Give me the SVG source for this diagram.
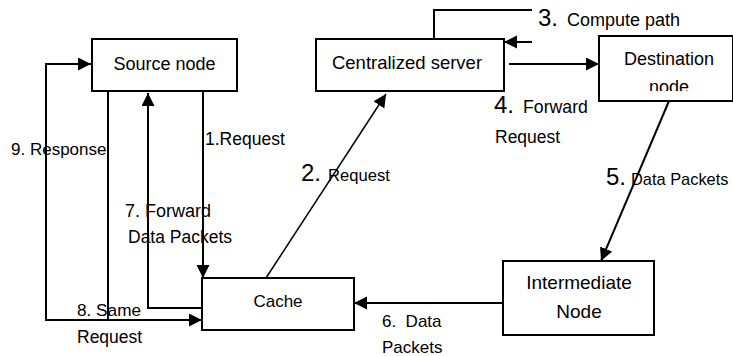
<svg xmlns="http://www.w3.org/2000/svg" width="733" height="356" viewBox="0 0 733 356">
  <style>
    .box { fill: #fff; stroke: #000; stroke-width: 2; }
    .edge { fill: none; stroke: #000; stroke-width: 2; }
    .thin { stroke-width: 1.5; }
    text { font-family: "Liberation Sans", Arial, sans-serif; fill: #000; }
    .node-label { font-size: 18px; text-anchor: middle; }
    .lbl { font-size: 17.5px; }
    .num { font-size: 24px; }
  </style>
  <defs>
    <marker id="arrow" markerUnits="userSpaceOnUse" markerWidth="14" markerHeight="14" refX="13" refY="6.5" orient="auto">
      <path d="M0,0 L13,6.5 L0,13 z" fill="#000"/>
    </marker>
    <clipPath id="dest-clip">
      <rect x="599" y="36" width="134" height="55"/>
    </clipPath>
  </defs>

  <!-- connectors -->
  <g id="connectors">
    <path class="edge" d="M203 91 V278" marker-end="url(#arrow)"/>
    <path class="edge thin" d="M266 278 L386 94" marker-end="url(#arrow)"/>
    <path class="edge" d="M434 39 V10 H532"/>
    <path class="edge" d="M532 42 H504" marker-end="url(#arrow)"/>
    <path class="edge" d="M509 64 H599" marker-end="url(#arrow)"/>
    <path class="edge" d="M669 101 L601 261" marker-end="url(#arrow)"/>
    <path class="edge" d="M503 303 H354" marker-end="url(#arrow)"/>
    <path class="edge" d="M202 308 H148 V93" marker-end="url(#arrow)"/>
    <path class="edge" d="M108 91 V320 H202" marker-end="url(#arrow)"/>
    <path class="edge" d="M108 320 H46 V64 H91" marker-end="url(#arrow)"/>
  </g>

  <!-- nodes -->
  <g id="source-node">
    <rect class="box" x="92" y="39" width="145" height="52"/>
    <text class="node-label" x="164.5" y="70">Source node</text>
  </g>
  <g id="centralized-server">
    <rect class="box" x="316" y="39" width="188" height="52"/>
    <text class="node-label" x="407" y="69" style="font-size:18.5px">Centralized server</text>
  </g>
  <g id="destination-node">
    <rect class="box" x="599" y="36" width="134" height="65"/>
    <g clip-path="url(#dest-clip)">
      <text class="node-label" x="669" y="65">Destination</text>
      <text class="node-label" x="669" y="93">node</text>
    </g>
  </g>
  <g id="cache">
    <rect class="box" x="202" y="278" width="152" height="52"/>
    <text class="node-label" x="278" y="307" style="font-size:17px">Cache</text>
  </g>
  <g id="intermediate-node">
    <rect class="box" x="503" y="261" width="151" height="74"/>
    <text class="node-label" x="579" y="289" style="font-size:19px">Intermediate</text>
    <text class="node-label" x="579" y="318" style="font-size:19px">Node</text>
  </g>

  <!-- edge labels -->
  <g id="labels">
    <text class="lbl" x="205" y="145">1.Request</text>
    <text class="num" x="301" y="181">2.</text>
    <text class="lbl" x="328" y="181" style="font-size:16.6px">Request</text>
    <text class="num" x="538" y="26">3.</text>
    <text class="lbl" x="567" y="26" style="font-size:18px">Compute path</text>
    <text class="num" x="494" y="113">4.</text>
    <text class="lbl" x="523" y="113" style="font-size:17.7px">Forward</text>
    <text class="lbl" x="495" y="143">Request</text>
    <text class="num" x="606" y="185">5.</text>
    <text class="lbl" x="631" y="185" style="font-size:16.4px">Data Packets</text>
    <text class="lbl" x="382" y="327" style="font-size:17px" xml:space="preserve">6.  Data</text>
    <text class="lbl" x="382" y="353" style="font-size:17px">Packets</text>
    <text class="lbl" x="125" y="217" style="font-size:18px">7. Forward</text>
    <text class="lbl" x="128" y="243">Data Packets</text>
    <text class="lbl" x="77" y="316" style="font-size:17.2px">8. Same</text>
    <text class="lbl" x="77" y="343">Request</text>
    <text class="lbl" x="11" y="155" style="font-size:17px">9. Response</text>
  </g>
</svg>
